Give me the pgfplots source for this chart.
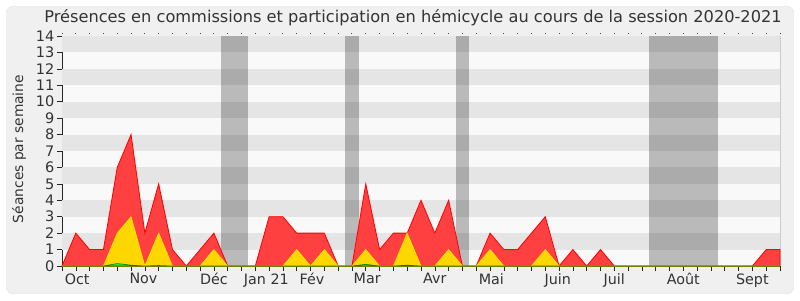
\documentclass[border=0pt]{standalone}
\usepackage{pgfplots}
\pgfplotsset{compat=1.18}
\usepackage{fontspec}
\setmainfont{DejaVu Sans}
\definecolor{bgc}{HTML}{F0F0F0}
\definecolor{brd}{HTML}{E0E0E0}
\definecolor{stripeD}{HTML}{E5E5E5}
\definecolor{stripeL}{HTML}{F9F9F9}
\definecolor{txt}{HTML}{333333}
\definecolor{redfill}{HTML}{FF4040}
\definecolor{redline}{HTML}{FF0000}
\definecolor{yelfill}{HTML}{FFD700}
\definecolor{yelline}{HTML}{FFEE00}
\definecolor{grnfill}{HTML}{22EE22}
\begin{document}
\begin{tikzpicture}[x=1pt,y=1pt]
\useasboundingbox (0,0) rectangle (800,300);
\fill[white] (0,0) rectangle (800,300);
\filldraw[fill=bgc,draw=brd,rounded corners=6pt] (6.5,6.5) rectangle (793.5,293.5);
\begin{axis}[at={(62pt,34pt)}, anchor=origin, scale only axis, width=718pt, height=230pt,
  xmin=0, xmax=52, ymin=0, ymax=14, clip=false,
  axis background/.style={fill=stripeL},
  axis x line*=bottom, axis y line*=left,
  axis line style={draw=black!85, line width=0.8pt},
  tick align=outside, major tick length=5pt,
  tick style={black!85, line width=0.6pt},
  xtick={0,...,52}, xticklabels={},
  ytick={0,...,14},
  yticklabel style={font=\fontsize{14.5}{14.5}\selectfont, text=txt, inner sep=2.5pt},
  /pgf/number format/assume math mode=true,
  extra x ticks={1.1,5.9,11,14.8,18.1,22.1,27,31.1,35.9,40,45,50},
  extra x tick labels={Oct,Nov,Déc,Jan 21,Fév,Mar,Avr,Mai,Juin,Juil,Août,Sept},
  extra x tick style={major tick length=0pt, xticklabel style={font=\fontsize{14.3}{14.3}\selectfont, text=txt, yshift=-4pt}},
]
% stripes
\fill[stripeD] (axis cs:0,1) rectangle (axis cs:52,2);
\fill[stripeD] (axis cs:0,3) rectangle (axis cs:52,4);
\fill[stripeD] (axis cs:0,5) rectangle (axis cs:52,6);
\fill[stripeD] (axis cs:0,7) rectangle (axis cs:52,8);
\fill[stripeD] (axis cs:0,9) rectangle (axis cs:52,10);
\fill[stripeD] (axis cs:0,11) rectangle (axis cs:52,12);
\fill[stripeD] (axis cs:0,13) rectangle (axis cs:52,14);
% vacation bands
\fill[black,opacity=0.25] (axis cs:11.5,0) rectangle (axis cs:13.5,14);
\fill[black,opacity=0.25] (axis cs:20.5,0) rectangle (axis cs:21.5,14);
\fill[black,opacity=0.25] (axis cs:28.5,0) rectangle (axis cs:29.5,14);
\fill[black,opacity=0.25] (axis cs:42.5,0) rectangle (axis cs:47.5,14);
\draw[black!20] (axis cs:52,0) -- (axis cs:52,14);
\pgfplotsinvokeforeach{0,...,52}{\fill[black!70] (axis cs:#1,14) ++(-0.5pt,1.5pt) rectangle ++(1pt,1pt);}
% red
\addplot[draw=redline, line width=0.8pt, fill=redfill] coordinates {
(0,0)(1,2)(2,1)(3,1)(4,6)(5,8)(6,2)(7,5)(8,1)(9,0)(10,1)(11,2)(12,0)(13,0)(14,0)
(15,3)(16,3)(17,2)(18,2)(19,2)(20,0)(21,0)(22,5)(23,1)(24,2)(25,2)(26,4)(27,2)(28,4)
(29,0)(30,0)(31,2)(32,1)(33,1)(34,2)(35,3)(36,0)(37,1)(38,0)(39,1)(40,0)(41,0)(42,0)
(43,0)(44,0)(45,0)(46,0)(47,0)(48,0)(49,0)(50,0)(51,1)(52,1)} \closedcycle;
% yellow
\addplot[draw=yelline, line width=0.6pt, fill=yelfill] coordinates {
(0,0)(1,0)(2,0)(3,0)(4,2)(5,3)(6,0)(7,2)(8,0)(9,0)(10,0)(11,1)(12,0)(13,0)(14,0)
(15,0)(16,0)(17,1)(18,0)(19,1)(20,0)(21,0)(22,1)(23,0)(24,0)(25,2)(26,0)(27,0)(28,1)
(29,0)(30,0)(31,1)(32,0)(33,0)(34,0)(35,1)(36,0)(37,0)(38,0)(39,0)(40,0)(41,0)(42,0)
(43,0)(44,0)(45,0)(46,0)(47,0)(48,0)(49,0)(50,0)(51,0)(52,0)} \closedcycle;
% green
\addplot[draw=green!50!black, line width=0.6pt, fill=grnfill] coordinates {
(0,0)(1,0)(2,0)(3,0)(4,0.15)(5,0.05)(6,0)(7,0.03)(8,0)(9,0)(10,0)(11,0)(12,0)(13,0)(14,0)
(15,0)(16,0)(17,0)(18,0)(19,0)(20,0)(21,0)(22,0.1)(23,0)(24,0)(25,0.05)(26,0)(27,0)(28,0)
(29,0)(30,0)(31,0)(32,0)(33,0)(34,0)(35,0)(36,0)(37,0)(38,0)(39,0)(40,0)(41,0)(42,0)
(43,0)(44,0)(45,0)(46,0)(47,0)(48,0)(49,0)(50,0)(51,0)(52,0)} \closedcycle;
\end{axis}
\node[font=\fontsize{16.2}{16.2}\selectfont, text=txt] at (413,282) {Présences en commissions et participation en hémicycle au cours de la session 2020-2021};
\node[rotate=90, font=\fontsize{13.8}{13.8}\selectfont, text=txt] at (19,151) {Séances par semaine};
\end{tikzpicture}
\end{document}
